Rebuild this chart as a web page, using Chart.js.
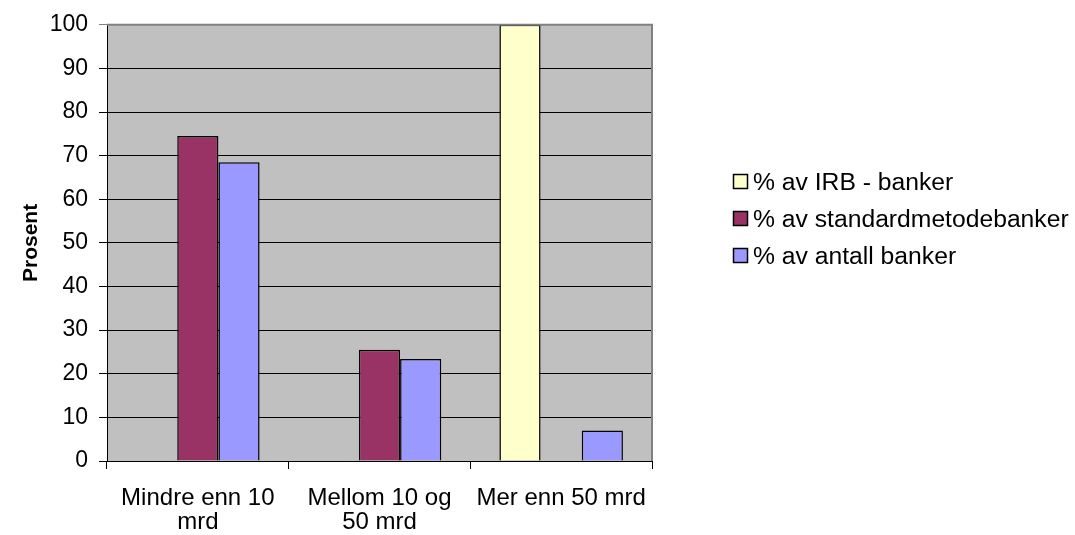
<!DOCTYPE html>
<html>
<head>
<meta charset="utf-8">
<script src="https://cdn.jsdelivr.net/npm/chart.js@4/dist/chart.umd.min.js"></script>
<style>
  html, body { margin: 0; padding: 0; background: #fff; }
  #wrap { width: 1075px; height: 535px; position: relative; }
</style>
</head>
<body>
<div id="wrap"><canvas id="c" width="1075" height="535"></canvas></div>
<script>
// Bank size groups (forvaltningskapital)
const categories = [['Mindre enn 10', 'mrd'], ['Mellom 10 og', '50 mrd'], 'Mer enn 50 mrd'];

// Share of banks per size group, in percent
const irbBanker = [0, 0, 100];
const standardmetodeBanker = [74.5, 25.5, 0];
const antallBanker = [68.5, 23.4, 7];

const seriesLabels = ['% av IRB - banker', '% av standardmetodebanker', '% av antall banker'];
const seriesColors = ['#FFFFCC', '#993366', '#9999FF'];

const yTicks = { min: 0, max: 100, step: 10 };
const yTitle = 'Prosent';

const FONT = '"Liberation Sans", Arial, sans-serif';

// Grey plot background plus the light frame on top and right
const plotFrame = {
  id: 'plotFrame',
  beforeDraw(chart) {
    const { ctx, chartArea: a } = chart;
    ctx.save();
    ctx.fillStyle = '#C0C0C0';
    ctx.fillRect(a.left, a.top, a.right - a.left, a.bottom - a.top);
    ctx.restore();
  },
  afterDatasetsDraw(chart) {
    const { ctx, chartArea: a } = chart;
    ctx.save();
    ctx.strokeStyle = '#808080';
    ctx.lineWidth = 2;
    ctx.beginPath();
    ctx.moveTo(a.left, a.top);
    ctx.lineTo(a.right, a.top);
    ctx.lineTo(a.right, a.bottom);
    ctx.stroke();
    ctx.restore();
  }
};

// Legend at the right, drawn from the dataset labels and colours
const sideLegend = {
  id: 'sideLegend',
  afterDraw(chart) {
    const { ctx } = chart;
    const rows = [182, 219, 256];
    ctx.save();
    ctx.font = '24.7px ' + FONT;
    ctx.textBaseline = 'middle';
    ctx.textAlign = 'left';
    chart.data.datasets.forEach((ds, i) => {
      const y = rows[i];
      ctx.fillStyle = ds.backgroundColor;
      ctx.fillRect(733.5, y - 7.5, 14, 14);
      ctx.strokeStyle = '#000';
      ctx.lineWidth = 1.5;
      ctx.strokeRect(733.5, y - 7.5, 14, 14);
      ctx.fillStyle = '#000';
      ctx.fillText(ds.label, 753, y + 1);
    });
    ctx.restore();
  }
};

const datasets = [irbBanker, standardmetodeBanker, antallBanker].map((values, i) => ({
  label: seriesLabels[i],
  data: values,
  backgroundColor: seriesColors[i],
  borderColor: '#000',
  borderWidth: 1.5,
  borderSkipped: 'bottom',
  categoryPercentage: 0.68,
  barPercentage: 1.0
}));

new Chart(document.getElementById('c'), {
  type: 'bar',
  data: { labels: categories, datasets },
  options: {
    responsive: false,
    animation: false,
    devicePixelRatio: 1,
    layout: { padding: { left: 0, top: 23, right: 423, bottom: 0 } },
    plugins: {
      legend: { display: false },
      tooltip: { enabled: false }
    },
    scales: {
      x: {
        grid: {
          display: true,
          offset: true,
          drawOnChartArea: false,
          drawTicks: true,
          tickLength: 8,
          color: '#000',
          lineWidth: 1
        },
        border: { display: true, color: '#000', width: 1 },
        ticks: {
          color: '#000',
          font: { family: FONT, size: 24, lineHeight: 1.0 },
          padding: 17,
          maxRotation: 0,
          autoSkip: false
        },
        afterFit(scale) { scale.height = 74; }
      },
      y: {
        min: yTicks.min,
        max: yTicks.max,
        grid: {
          color: (c) => (c.tick && c.tick.value === yTicks.max ? '#808080' : '#000'),
          lineWidth: 1,
          drawTicks: true,
          tickLength: 8
        },
        border: { display: true, color: '#000', width: 1 },
        ticks: {
          stepSize: yTicks.step,
          color: '#000',
          font: { family: FONT, size: 23 },
          padding: 11
        },
        title: {
          display: true,
          text: yTitle,
          color: '#000',
          font: { family: FONT, size: 21, weight: 'bold' },
          padding: { top: 19, bottom: 0 }
        },
        afterFit(scale) { scale.width = 107; }
      }
    }
  },
  plugins: [plotFrame, sideLegend]
});
</script>
</body>
</html>
